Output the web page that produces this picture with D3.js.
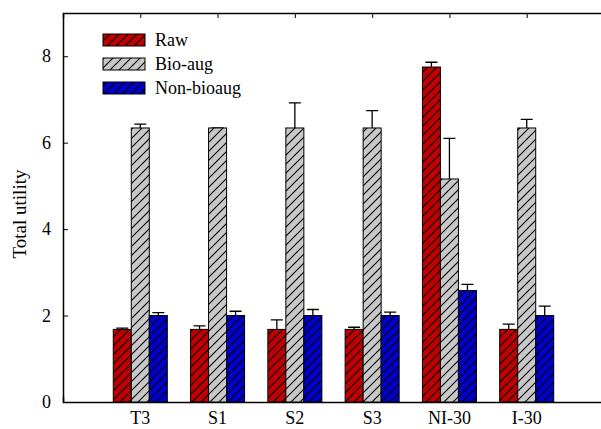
<!DOCTYPE html>
<meta charset="utf-8">
<script src="https://d3js.org/d3.v7.min.js"></script>
<style>
  body { margin: 0; background: #fff; }
  text { font-family: "Liberation Serif", "Times New Roman", serif; fill: #000; }
</style>
<div id="my_dataviz"></div>
<script>
// data
var categories = ["T3", "S1", "S2", "S3", "NI-30", "I-30"];
var series = ["Raw", "Bio-aug", "Non-bioaug"];
var rawVals = [1.68, 1.68, 1.68, 1.68, 7.75, 1.68];
var rawErr = [0.03, 0.08, 0.22, 0.05, 0.11, 0.12];
var bioVals = [6.34, 6.34, 6.34, 6.34, 5.16, 6.34];
var bioErr = [0.09, 0.0, 0.58, 0.40, 0.94, 0.20];
var nonVals = [2.0, 2.0, 2.0, 2.0, 2.58, 2.0];
var nonErr = [0.07, 0.10, 0.14, 0.08, 0.14, 0.22];
var yTicks = [0, 2, 4, 6, 8];
var colors = ["#c00000", "#c8c8c8", "#0000c8"];

var width = 601, height = 429;
var margin = {top: 13, right: -3, bottom: 27, left: 63};

var svg = d3.select("#my_dataviz")
  .append("svg")
  .attr("width", width)
  .attr("height", height);

// hatch patterns
var defs = svg.append("defs");
colors.forEach(function(c, i) {
  var p = defs.append("pattern")
    .attr("id", "hatch" + i)
    .attr("patternUnits", "userSpaceOnUse")
    .attr("width", 9).attr("height", 9);
  p.append("rect").attr("width", 9).attr("height", 9).attr("fill", c);
  p.append("path")
    .attr("d", "M-2,2 L2,-2 M0,9 L9,0 M7,11 L11,7")
    .attr("stroke", "#000").attr("stroke-width", 1.1);
});

var x = d3.scaleLinear()
  .domain([0, categories.length + 1])
  .range([margin.left, width - margin.right]);

var y = d3.scaleLinear()
  .domain([0, 9])
  .range([height - margin.bottom, margin.top]);

// frame
svg.append("g")
  .attr("transform", "translate(0," + y(0) + ")")
  .call(d3.axisBottom(x).tickValues(d3.range(1, 7)).tickSize(-5).tickFormat(""))
  .call(g => g.select(".domain").attr("stroke-width", 1.5));
svg.append("g")
  .attr("transform", "translate(0," + y(9) + ")")
  .call(d3.axisTop(x).tickValues(d3.range(1, 7)).tickSize(-5).tickFormat(""))
  .call(g => g.select(".domain").attr("stroke-width", 1.5));
svg.append("g")
  .attr("transform", "translate(" + x(0) + ",0)")
  .call(d3.axisLeft(y).tickValues(yTicks).tickSize(-5).tickSizeOuter(0).tickPadding(12))
  .call(g => g.select(".domain").attr("stroke-width", 1.5))
  .call(g => g.selectAll("text").attr("font-size", 18).attr("font-family", "Liberation Serif"));

// category labels
svg.append("g").selectAll("text")
  .data(categories)
  .join("text")
  .attr("x", (d, i) => x(i + 1))
  .attr("y", 424)
  .attr("text-anchor", "middle")
  .attr("font-size", 18)
  .text(d => d);

// y label
svg.append("text")
  .attr("transform", "translate(26," + 214 + ") rotate(-90)")
  .attr("text-anchor", "middle")
  .attr("font-size", 19)
  .text("Total utility");

var allVals = [rawVals, bioVals, nonVals];
var allErr = [rawErr, bioErr, nonErr];
var bw = 0.233;

allVals.forEach(function(vals, s) {
  var g = svg.append("g");
  var off = (s - 1) * bw;
  // error bars
  g.selectAll("path.err")
    .data(vals)
    .join("path")
    .attr("class", "err")
    .attr("fill", "none")
    .attr("stroke", "#000")
    .attr("stroke-width", 1.3)
    .attr("d", function(d, i) {
      var cx = x(i + 1 + off);
      var top = y(d + allErr[s][i]);
      return "M" + cx + "," + y(d) + "V" + top + "M" + (cx - 6) + "," + top + "H" + (cx + 6);
    });
  g.selectAll("rect")
    .data(vals)
    .join("rect")
    .attr("x", (d, i) => x(i + 1 + off - bw / 2))
    .attr("width", x(bw) - x(0))
    .attr("y", d => y(d))
    .attr("height", d => y(0) - y(d))
    .attr("fill", "url(#hatch" + s + ")")
    .attr("stroke", "#000")
    .attr("stroke-width", 1);
});

// legend
var legend = svg.append("g");
series.forEach(function(name, i) {
  var ly = 34 + i * 24;
  legend.append("rect")
    .attr("x", 103).attr("y", ly)
    .attr("width", 42).attr("height", 12)
    .attr("fill", "url(#hatch" + i + ")")
    .attr("stroke", "#000");
  legend.append("text")
    .attr("x", 155).attr("y", ly + 12)
    .attr("font-size", 18)
    .text(name);
});
</script>
